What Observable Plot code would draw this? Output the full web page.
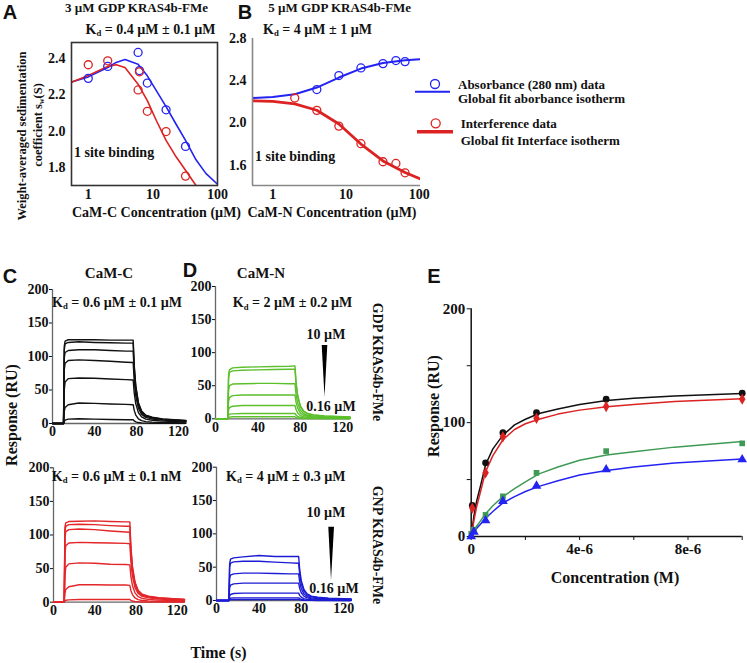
<!DOCTYPE html>
<html><head><meta charset="utf-8">
<script src="https://cdn.jsdelivr.net/npm/d3@7"></script>
<script src="https://cdn.jsdelivr.net/npm/@observablehq/plot@0.6"></script>
<style>
body{margin:0;background:#fff;}
#fig{position:relative;width:747px;height:663px;overflow:hidden;background:#fff;font-family:"Liberation Serif","Times New Roman",serif;font-weight:bold;color:#111;}
.t{position:absolute;white-space:nowrap;line-height:1;}
.sub{font-size:0.62em;position:relative;top:0.3em;}
</style></head><body><div id="fig"></div>
<script>
// ---------- Panel A (3 µM GDP KRAS4b-FMe, CaM-C) ----------
const aConcAbs = [1, 2, 5.9, 6.2, 8.2, 16, 32];
const aAbs     = [2.292, 2.358, 2.435, 2.335, 2.266, 2.118, 1.916];
const aConcInt = [1, 2, 5.9, 6.2, 8.2, 16, 32];
const aInt     = [2.367, 2.389, 2.228, 2.328, 2.110, 1.998, 1.752];
const aFitX    = [0.55, 1, 2, 2.7, 3.7, 5.9, 8.2, 11.3, 16, 23, 32, 46.5, 66, 100];
const aFitAbs  = [2.272, 2.300, 2.352, 2.380, 2.396, 2.370, 2.306, 2.224, 2.136, 2.037, 1.949, 1.842, 1.767, 1.707];
const aFitInt  = [2.270, 2.308, 2.358, 2.367, 2.352, 2.260, 2.169, 2.059, 1.949, 1.857, 1.784, 1.700, 1.630, 1.550];
const aXTicks = [1, 10, 100];
const aYTicks = [1.8, 2.0, 2.2, 2.4];

// ---------- Panel B (5 µM GDP KRAS4b-FMe, CaM-N) ----------
const bConcAbs = [4, 8, 16, 32, 48, 64];
const bAbs     = [2.316, 2.449, 2.521, 2.562, 2.591, 2.581];
const bConcInt = [2, 4, 8, 16, 32, 48, 64];
const bInt     = [2.236, 2.119, 1.970, 1.803, 1.632, 1.616, 1.527];
const bFitX    = [0.53, 1, 2, 4, 8, 16, 32, 64, 104];
const bFitAbs  = [2.236, 2.245, 2.271, 2.335, 2.430, 2.515, 2.568, 2.594, 2.603];
const bFitInt  = [2.210, 2.205, 2.180, 2.120, 1.990, 1.800, 1.640, 1.530, 1.470];
const bXTicks = [1, 10, 100];
const bYTicks = [1.6, 2.0, 2.4, 2.8];

// ---------- Panels C / D sensorgrams (Response RU vs time s) ----------
const sensorXTicks = [0, 40, 80, 120];
const sensorYTicks = [0, 50, 100, 150, 200];
const tCtop = [0, 10.5, 11.2, 12, 15, 25, 40, 55, 70, 76.8, 77.8, 79.3, 81.8, 84.8, 88.8, 94.8, 104.8, 127];
const cTop = [
  [0,0,115,123,125,125,125,124.5,124.5,124.5, 87.2,56,31.1,18.7,12.5,9.3,6.8,4.4],
  [0,0,110,119,121,122,121,120.5,120,120, 84,54,30,18,12,9,6.6,4.2],
  [0,0,98,106,109,110,110,109,108,108, 75.6,48.6,27,16.2,10.8,8.1,5.9,3.8],
  [0,0,80,90,94,95,94,93,91.5,91, 63.7,41,22.8,13.7,9.1,6.8,5,3.2],
  [0,0,50,62,67,68,67.5,66.5,65.5,65, 45.5,29.3,16.3,9.8,6.5,4.9,3.6,2.3],
  [0,0,18,24,28,30.5,30,29,28.5,28, 19.6,12.6,7,4.2,2.8,2.1,1.5,1],
  [0,0,3,5,6.5,7,6.5,6,5.5,5.5, 3.9,2.5,1.4,0.8,0.6,0.4,0.3,0.2]
];
const tCbot = [0, 10.4, 11.1, 11.9, 14.9, 25, 40, 55, 70, 74, 75, 76.5, 79, 82, 86, 92, 102, 127];
const cBot = [
  [0,0,112,118,120,120.5,121,120,119.5,119.5, 83.7,53.8,29.9,17.9,12,9,6.6,4.2],
  [0,0,106,113,115.5,116,115.5,114,113,113, 79.1,50.9,28.3,17,11.3,8.5,6.2,4],
  [0,0,96,105,108,109,108,106,104.5,104, 72.8,46.8,26,15.6,10.4,7.8,5.7,3.6],
  [0,0,72,84,88,89,88.5,88,87.5,87, 60.9,39.2,21.8,13.1,8.7,6.5,4.8,3],
  [0,0,40,52,57,58.5,58,56.5,56,55.5, 38.9,25,13.9,8.3,5.6,4.2,3.1,1.9],
  [0,0,13,19,23,26,26,25.5,25.5,25, 17.5,11.3,6.3,3.8,2.5,1.9,1.4,0.9],
  [0,0,2,3,3.5,4,4,4,4,4, 2.8,1.8,1,0.6,0.4,0.3,0.2,0.1]
];
const tDtop = [0, 11.6, 12.3, 13.1, 16.1, 25, 40, 55, 70, 75, 76, 77.5, 80, 83, 87, 93, 103, 127];
const dTop = [
  [0,0,66,74,77,78,78.5,79,79.5,80, 56,36,20,12,8,6,4.4,2.8],
  [0,0,60,70,72.5,73.5,74,74.5,75,75, 52.5,33.8,18.8,11.3,7.5,5.6,4.1,2.6],
  [0,0,42,50,52.5,53,53.5,53.5,53,53, 37.1,23.9,13.3,8,5.3,4,2.9,1.9],
  [0,0,26,32,35,36,36,36,36,36, 25.2,16.2,9,5.4,3.6,2.7,2,1.3],
  [0,0,13,17,19,20,20,20,20,20, 14,9,5,3,2,1.5,1.1,0.7],
  [0,0,5,7,7.5,8,8,8,8,8, 5.6,3.6,2,1.2,0.8,0.6,0.4,0.3],
  [0,0,2,2.5,3,3,3,3,3,3, 2.1,1.4,0.8,0.5,0.3,0.2,0.2,0.1]
];
const tDbot = [0, 11.7, 12.4, 13.2, 16.2, 25, 40, 55, 70, 77.5, 78.5, 80, 82.5, 85.5, 89.5, 95.5, 105.5, 127];
const dBot = [
  [0,0,55,62,64,65.5,67.5,66,66,66, 46.2,29.7,16.5,9.9,6.6,5,3.6,2.3],
  [0,0,50,56,58,59,59,57.5,56.5,56, 39.2,25.2,14,8.4,5.6,4.2,3.1,2],
  [0,0,33,38,40,41,41,40.5,40,40, 28,18,10,6,4,3,2.2,1.4],
  [0,0,19,23,25,26,26,26,26,26, 18.2,11.7,6.5,3.9,2.6,2,1.4,0.9],
  [0,0,7,9,10.5,11,11,11,11,11, 7.7,5,2.8,1.7,1.1,0.8,0.6,0.4],
  [0,0,2.5,3.5,4,4,4,4,4,4, 2.8,1.8,1,0.6,0.4,0.3,0.2,0.1],
  [0,0,1,1.5,1.5,1.5,1.5,1.5,1.5,1.5, 1,0.7,0.4,0.2,0.2,0.1,0.1,0.1]
];

// ---------- Panel E (steady-state response vs concentration, µM) ----------
const eX       = [0.04, 0.53, 1.17, 2.41, 4.98, 10];
const eBlack   = [27.4, 64.7, 91.2, 108.8, 120.6, 125.9];
const eRed     = [25, 55.9, 87.6, 103.8, 114.1, 120.6];
const eX2      = [0, 0.1, 0.53, 1.17, 2.41, 4.98, 10];
const eGreen   = [2.4, 6, 19, 35.3, 55.9, 75, 81.8];
const eBlue    = [0, 4, 14, 31, 44.4, 58.8, 67.6];
const eFitX     = [0, 0.05, 0.1, 0.2, 0.35, 0.53, 0.8, 1.17, 1.6, 2, 2.5, 3.2, 4, 5, 6, 7.5, 10];
const eFitBlack = [0, 9, 18, 31, 45, 63, 77, 89, 98, 103, 108, 112, 116, 119.5, 121.5, 123.5, 125.5];
const eFitRed   = [0, 7, 14, 26, 40, 57, 71, 85, 94, 99, 103, 107.5, 111, 114, 116, 118.5, 121];
const eFitGreen = [0, 2.2, 5, 9, 14, 20, 27, 35, 42, 48, 55, 61, 67, 71.5, 74.5, 78.5, 83.5];
const eFitBlue  = [0, 2, 4, 7, 11, 16, 22, 29.5, 35, 39.5, 44, 49, 54, 58, 61, 64.5, 68];
const eXTicks = [0, 2, 4, 6, 8, 10];
const eXTickLabels = ["0", "", "4e-6", "", "8e-6", ""];
const eYTicks = [0, 50, 100, 150, 200];
const eYTickLabels = ["0", "", "100", "", "200"];

// ---------- colours ----------
const BLUE = "#2323f2", RED = "#dc2222", GREEN_D = "#5cbf2c", BLUE_D = "#1c1cd4",
      RED_C = "#e3262a", GREEN_E = "#3f9a55";

const fig = document.getElementById("fig");
const zip = (xs, ys) => xs.map((x, i) => ({x, y: ys[i]}));
const baseStyle = {fontFamily: "'Liberation Serif','Times New Roman',serif", fontWeight: "bold",
  fontSize: "15px", background: "transparent", overflow: "visible", color: "#111"};

function put(node, left, top) {
  node.style.position = "absolute"; node.style.left = left + "px"; node.style.top = top + "px";
  node.style.maxWidth = "none";
  fig.appendChild(node);
}
function txt(html, x, y, o = {}) {
  const d = document.createElement("div");
  d.className = "t"; d.innerHTML = html;
  d.style.left = x + "px"; d.style.top = y + "px";
  d.style.fontSize = (o.size || 14) + "px";
  if (o.sans) d.style.fontFamily = "'Liberation Sans',Arial,sans-serif";
  const ax = o.anchor === "start" ? "0" : "-50%";
  d.style.transform = `translate(${ax},-50%)` + (o.rot ? ` rotate(${o.rot}deg)` : "");
  fig.appendChild(d);
}

// ---------- A ----------
put(Plot.plot({
  width: 230, height: 210, marginLeft: 71, marginRight: 13, marginTop: 42, marginBottom: 25,
  style: {...baseStyle, fontSize: "14px"},
  x: {type: "log", domain: [0.55, 100], ticks: aXTicks, tickFormat: d => String(d), tickSize: 0, tickPadding: 4, label: null},
  y: {domain: [1.70, 2.49], ticks: aYTicks, tickFormat: d => d.toFixed(1), tickSize: 0, tickPadding: 6, label: null},
  marks: [
    Plot.line(zip(aFitX, aFitAbs), {x: "x", y: "y", stroke: BLUE, strokeWidth: 1.6, clip: true}),
    Plot.line(zip(aFitX, aFitInt), {x: "x", y: "y", stroke: RED, strokeWidth: 1.6, clip: true}),
    Plot.dot(zip(aConcAbs, aAbs), {x: "x", y: "y", r: 4, stroke: BLUE, strokeWidth: 1.3}),
    Plot.dot(zip(aConcInt, aInt), {x: "x", y: "y", r: 4, stroke: RED, strokeWidth: 1.3}),
    Plot.frame({stroke: "#333", strokeWidth: 1.6})
  ]
}), 0, 0);

// ---------- B ----------
put(Plot.plot({
  width: 210, height: 210, marginLeft: 32, marginRight: 10, marginTop: 38, marginBottom: 25,
  style: {...baseStyle, fontSize: "14px"},
  x: {type: "log", domain: [0.53, 104], ticks: bXTicks, tickFormat: d => String(d), tickSize: 0, tickPadding: 4, label: null},
  y: {domain: [1.407, 2.8], ticks: bYTicks, tickFormat: d => d.toFixed(1), tickSize: 0, tickPadding: 6, label: null},
  marks: [
    Plot.line(zip(bFitX, bFitAbs), {x: "x", y: "y", stroke: BLUE, strokeWidth: 2, clip: true}),
    Plot.line(zip(bFitX, bFitInt), {x: "x", y: "y", stroke: RED, strokeWidth: 2.8, clip: true}),
    Plot.dot(zip(bConcAbs, bAbs), {x: "x", y: "y", r: 4, stroke: BLUE, strokeWidth: 1.3}),
    Plot.dot(zip(bConcInt, bInt), {x: "x", y: "y", r: 4, stroke: RED, strokeWidth: 1.3}),
    Plot.ruleX([0.53], {stroke: "#888", strokeWidth: 1.6}),
    Plot.ruleY([1.407], {stroke: "#888", strokeWidth: 1.6})
  ]
}), 220, 0);

// ---------- C / D ----------
function sensor(times, traces, color, w, h, ml, mr, mt, mb) {
  const rows = traces.flatMap((vals, k) => vals.map((v, j) => ({t: times[j], v, k})));
  return Plot.plot({
    width: w, height: h, marginLeft: ml, marginRight: mr, marginTop: mt, marginBottom: mb,
    style: {...baseStyle, fontSize: "14px"},
    x: {domain: [0, 127], ticks: sensorXTicks, tickSize: 0, tickPadding: 3, label: null},
    y: {domain: [0, 200], ticks: sensorYTicks, tickSize: 3, tickPadding: 1, label: null},
    marks: [
      Plot.ruleX([0], {stroke: "#666", strokeWidth: 1.3}),
      Plot.ruleY([0], {stroke: "#666", strokeWidth: 1.3}),
      Plot.line(rows, {x: "t", y: "v", z: "k", stroke: color, strokeWidth: 1.4})
    ]
  });
}
put(sensor(tCtop, cTop, "#111", 200, 160, 52, 14.6, 9, 17), 0, 280);
put(sensor(tCbot, cBot, RED_C, 200, 185, 53, 16, 27.3, 23.3), 0, 440);
put(sensor(tDtop, dTop, GREEN_D, 200, 160, 35, 30.4, 6, 21.7), 180, 280);
put(sensor(tDbot, dBot, BLUE_D, 200, 185, 36, 29.4, 26.7, 25), 180, 440);

// ---------- E ----------
const eTickFmtX = d => eXTickLabels[eXTicks.indexOf(d)];
const eTickFmtY = d => eYTickLabels[eYTicks.indexOf(d)];
put(Plot.plot({
  width: 327, height: 280, marginLeft: 50.7, marginRight: 5.3, marginTop: 28.3, marginBottom: 24,
  style: {...baseStyle, fontSize: "15px"},
  x: {domain: [0, 10], label: null},
  y: {domain: [0, 200], label: null},
  marks: [
    Plot.axisX({ticks: eXTicks, tickFormat: eTickFmtX, tickSize: 4, tickPadding: 3, stroke: "#111"}),
    Plot.axisY({ticks: eYTicks, tickFormat: eTickFmtY, tickSize: 4, tickPadding: 2, stroke: "#111"}),
    Plot.ruleX([0], {stroke: "#111", strokeWidth: 1.5}),
    Plot.ruleY([0], {stroke: "#111", strokeWidth: 1.5}),
    Plot.line(zip(eFitX, eFitBlack), {x: "x", y: "y", stroke: "#111", strokeWidth: 1.5}),
    Plot.line(zip(eFitX, eFitRed), {x: "x", y: "y", stroke: RED, strokeWidth: 1.5}),
    Plot.line(zip(eFitX, eFitGreen), {x: "x", y: "y", stroke: GREEN_E, strokeWidth: 1.5}),
    Plot.line(zip(eFitX, eFitBlue), {x: "x", y: "y", stroke: BLUE, strokeWidth: 1.5}),
    Plot.dot(zip(eX, eBlack), {x: "x", y: "y", r: 3.4, fill: "#111", symbol: "circle"}),
    Plot.dot(zip(eX, eRed), {x: "x", y: "y", r: 3.4, fill: RED, symbol: "diamond"}),
    Plot.dot(zip(eX2, eGreen), {x: "x", y: "y", r: 3.2, fill: GREEN_E, symbol: "square"}),
    Plot.dot(zip(eX2, eBlue), {x: "x", y: "y", r: 3.6, fill: BLUE, symbol: "triangle"})
  ]
}), 420, 280);

// ---------- texts ----------
const KD = s => `K<span class="sub">d</span> = ${s}`;
txt("A", 10, 12, {size: 20, sans: true});
txt("3 µM GDP KRAS4b-FMe", 136.5, 7, {size: 13});
txt(KD("0.4 µM ± 0.1 µM"), 150.5, 29.5, {size: 14});
txt("B", 245, 12, {size: 20, sans: true});
txt("5 µM GDP KRAS4b-FMe", 339.7, 7, {size: 13});
txt(KD("4 µM ± 1 µM"), 317.5, 29.5, {size: 14});
txt("Weight-averaged sedimentation", 22, 136, {size: 12.5, rot: -90});
txt("coefficient s<span class='sub'>w</span>(S)", 37.5, 125, {size: 12.5, rot: -90});
txt("1 site binding", 74, 153, {size: 14, anchor: "start"});
txt("1 site binding", 255, 156.7, {size: 14, anchor: "start"});
txt("CaM-C Concentration (µM)", 156.5, 212.7, {size: 14});
txt("CaM-N Concentration (µM)", 332, 212.7, {size: 14});
txt("Absorbance (280 nm) data", 458, 84, {size: 13, anchor: "start"});
txt("Global fit aborbance isotherm", 458, 98.3, {size: 13, anchor: "start"});
txt("Interference data", 460.7, 123.3, {size: 13, anchor: "start"});
txt("Global fit Interface isotherm", 460.7, 140, {size: 13, anchor: "start"});

txt("C", 10, 276, {size: 20, sans: true});
txt("CaM-C", 109, 273, {size: 15});
txt("D", 190, 270, {size: 20, sans: true});
txt("CaM-N", 261, 273, {size: 15});
txt("E", 434, 276, {size: 20, sans: true});
txt(KD("0.6 µM ± 0.1 µM"), 117, 302.7, {size: 14});
txt(KD("2 µM ± 0.2 µM"), 292.5, 303.3, {size: 14});
txt(KD("0.6 µM ± 0.1 nM"), 116.7, 476.7, {size: 14});
txt(KD("4 µM ± 0.3 µM"), 285.8, 476.7, {size: 14});
txt("Response (RU)", 12, 415, {size: 16, rot: -90});
txt("Time (s)", 218.5, 652.7, {size: 16});
txt("GDP KRAS4b-FMe", 377, 362, {size: 14, rot: 90});
txt("GNP KRAS4b-FMe", 377, 545, {size: 14, rot: 90});
txt("10 µM", 326, 335, {size: 14});
txt("0.16 µM", 331, 406.7, {size: 14});
txt("10 µM", 326, 512.7, {size: 14});
txt("0.16 µM", 334, 589.3, {size: 14});
txt("Response (RU)", 434, 406, {size: 16, rot: -90});
txt("Concentration (M)", 615, 578.3, {size: 16});

// ---------- legend swatches & wedges (decorations) ----------
const NS = "http://www.w3.org/2000/svg";
function deco(w, h, left, top, inner) {
  const s = document.createElementNS(NS, "svg");
  s.setAttribute("width", w); s.setAttribute("height", h);
  s.innerHTML = inner;
  s.style.position = "absolute"; s.style.left = left + "px"; s.style.top = top + "px";
  fig.appendChild(s);
}
deco(50, 70, 410, 75,
  `<line x1="5" x2="40" y1="16.7" y2="16.7" stroke="${BLUE}" stroke-width="2"/>
   <circle cx="25" cy="9" r="4.5" fill="#fff" stroke="${BLUE}" stroke-width="1.3"/>
   <line x1="7" x2="43" y1="56.7" y2="56.7" stroke="${RED}" stroke-width="3.5"/>
   <circle cx="25.7" cy="48.3" r="4.5" fill="#fff" stroke="${RED}" stroke-width="1.3"/>`);
deco(20, 60, 315, 340, `<polygon points="6.7,5 12.3,5 9.5,56.7" fill="#000"/>`);
deco(20, 60, 322, 522, `<polygon points="6.3,4.7 12,4.7 9,58" fill="#000"/>`);
</script></body></html>
